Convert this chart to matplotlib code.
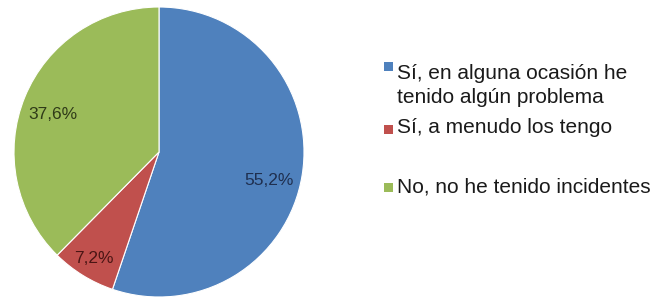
import matplotlib
matplotlib.use("Agg")
import matplotlib.pyplot as plt
from matplotlib.patches import Rectangle
import numpy as np

labels = ["Sí, en alguna ocasión he\ntenido algún problema",
          "Sí, a menudo los tengo",
          "No, no he tenido incidentes"]
values = [55.2, 7.2, 37.6]
pct_labels = ["55,2%", "7,2%", "37,6%"]
colors = ["#4F81BD", "#C0504D", "#9BBB59"]
text_colors = ["#1F2F4F", "#4A1514", "#2F3A18"]

plt.rcParams['font.family'] = ['Liberation Sans', 'DejaVu Sans']

W, H = 656, 299
fig = plt.figure(figsize=(W / 100, H / 100), dpi=100)
fig.patch.set_facecolor("white")

cx, cy, r = 159, 152, 145
ax = fig.add_axes([(cx - r) / W, (H - cy - r) / H, 2 * r / W, 2 * r / H])
wedges, _ = ax.pie(values, colors=colors, startangle=90, counterclock=False,
                   radius=1.0, wedgeprops=dict(edgecolor="white", linewidth=0.8))
ax.set_xlim(-1, 1)
ax.set_ylim(-1, 1)
ax.set_aspect("equal")
ax.axis("off")

dists = [0.78, 0.86, 0.78]
offsets = [-5.0, 0.0, 2.7]
for w, lab, d, off, tc in zip(wedges, pct_labels, dists, offsets, text_colors):
    ang = np.deg2rad((w.theta1 + w.theta2) / 2 + off)
    ax.text(d * np.cos(ang), d * np.sin(ang), lab, ha="center", va="center",
            fontsize=12.5, color=tc)

# legend
marker_y = [67, 129, 187]
text_y = [103, 127, 187]
for i, (lab, col) in enumerate(zip(labels, colors)):
    fig.patches.append(Rectangle((384 / W, (H - marker_y[i] - 4.5) / H), 9 / W, 9 / H,
                                 transform=fig.transFigure, facecolor=col,
                                 edgecolor="none"))
    if "\n" in lab:
        fig.text(397 / W, (H - text_y[i]) / H, lab, ha="left", va="baseline",
                 fontsize=15, color="#1a1a1a", linespacing=1.35)
    else:
        fig.text(397 / W, (H - text_y[i]) / H, lab, ha="left", va="center",
                 fontsize=15, color="#1a1a1a")

fig.savefig("out.png", dpi=100, facecolor="white")
